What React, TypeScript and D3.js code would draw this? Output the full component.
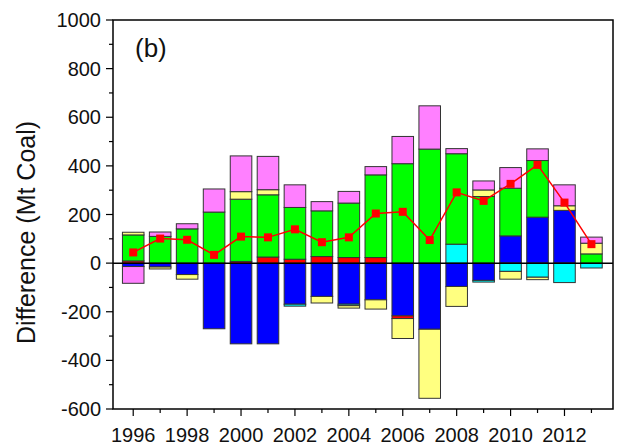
import React from "react";
import * as d3 from "d3";

const years = [1996, 1997, 1998, 1999, 2000, 2001, 2002, 2003, 2004, 2005, 2006, 2007, 2008, 2009, 2010, 2011, 2012, 2013];

const blue = [-14, -16, -47, -270, -332, -332, -169, -137, -169, -151, -217, -272, -96, -71, 112, 189, 217, 0];
const cyan = [0, 0, 0, 0, 0, 0, -8, 0, -6, 0, 0, 0, 78, -7, -34, -58, -80, -20];
const red = [9, 0, 0, 0, 7, 25, 16, 27, 23, 23, -11, 0, 0, 0, 0, 0, 0, 0];
const green = [107, 110, 141, 210, 256, 256, 213, 188, 224, 340, 409, 469, 372, 274, 196, 233, 0, 38];
const yellow = [11, -8, -19, 0, 31, 21, 0, -27, -10, -38, -82, -284, -82, 27, -32, -10, 19, 44];
const pink = [-69, 18, 21, 95, 147, 137, 93, 38, 48, 34, 112, 178, 21, 37, 85, 48, 86, 25];
const net = [44, 101, 96, 34, 109, 106, 139, 86, 106, 204, 211, 95, 291, 256, 326, 404, 249, 78];

const seriesKeys = ["blue", "cyan", "red", "green", "yellow", "pink"];
const seriesColors: Record<string, string> = {
  blue: "#0000FF",
  cyan: "#00FFFF",
  red: "#FF0000",
  green: "#00FF00",
  yellow: "#FFFF80",
  pink: "#FF80FF",
};

const yMajor = [-600, -400, -200, 0, 200, 400, 600, 800, 1000];
const yMinor = [-500, -300, -100, 100, 300, 500, 700, 900];
const xMajor = [1996, 1998, 2000, 2002, 2004, 2006, 2008, 2010, 2012];
const xMinor = [1997, 1999, 2001, 2003, 2005, 2007, 2009, 2011, 2013];

const FONT = "'Liberation Sans', Arial, sans-serif";

export default function App() {
  const L = 113, R = 613, T = 20, B = 409;
  const x = d3.scaleLinear().domain([1995.25, 2013.8]).range([L, R]);
  const y = d3.scaleLinear().domain([-600, 1000]).range([B, T]);

  const table = years.map((yr, i) => ({
    year: yr,
    blue: blue[i],
    cyan: cyan[i],
    red: red[i],
    green: green[i],
    yellow: yellow[i],
    pink: pink[i],
  }));
  const stacked = d3.stack<any>().keys(seriesKeys).offset(d3.stackOffsetDiverging)(table);
  const barW = x(1996.8) - x(1996);

  const line = d3
    .line<number>()
    .x((_, i) => x(years[i]))
    .y((d) => y(d));

  return (
    <svg
      width={621}
      height={448}
      style={{ position: "absolute", left: 0, top: 0, background: "#fff" }}
      fontFamily={FONT}
    >
      {stacked.map((s) => (
        <g key={s.key} fill={seriesColors[s.key]} stroke="#333" strokeWidth={1}>
          {s.map((d, i) =>
            d[1] - d[0] !== 0 ? (
              <rect
                key={i}
                x={x(years[i]) - barW / 2}
                width={barW}
                y={y(Math.max(d[0], d[1]))}
                height={Math.abs(y(d[0]) - y(d[1]))}
              />
            ) : null
          )}
        </g>
      ))}
      <line x1={L} x2={R} y1={y(0)} y2={y(0)} stroke="#000" strokeWidth={1.5} />
      <path d={line(net) || ""} fill="none" stroke="#FF0000" strokeWidth={1.5} />
      {net.map((v, i) => (
        <rect key={i} x={x(years[i]) - 4} y={y(v) - 4} width={8} height={8} fill="#FF0000" />
      ))}
      <rect x={L} y={T} width={R - L} height={B - T} fill="none" stroke="#000" strokeWidth={1.5} />
      {yMajor.map((v) => (
        <g key={v}>
          <line x1={L - 7} x2={L} y1={y(v)} y2={y(v)} stroke="#000" strokeWidth={1.2} />
          <text x={L - 12} y={y(v)} dy="0.35em" textAnchor="end" fontSize={20} fill="#111">
            {v}
          </text>
        </g>
      ))}
      {yMinor.map((v) => (
        <line key={v} x1={L - 4} x2={L} y1={y(v)} y2={y(v)} stroke="#000" strokeWidth={1.2} />
      ))}
      {xMajor.map((v) => (
        <g key={v}>
          <line x1={x(v)} x2={x(v)} y1={B} y2={B + 7} stroke="#000" strokeWidth={1.2} />
          <text x={x(v)} y={B + 33} textAnchor="middle" fontSize={20} fill="#111">
            {v}
          </text>
        </g>
      ))}
      {xMinor.map((v) => (
        <line key={v} x1={x(v)} x2={x(v)} y1={B} y2={B + 4} stroke="#000" strokeWidth={1.2} />
      ))}
      <text
        transform={`translate(35,${(T + B) / 2 + 18}) rotate(-90)`}
        textAnchor="middle"
        fontSize={25}
        fill="#111"
      >
        Difference (Mt Coal)
      </text>
      <text x={135} y={57} fontSize={26} fill="#111">
        (b)
      </text>
    </svg>
  );
}
